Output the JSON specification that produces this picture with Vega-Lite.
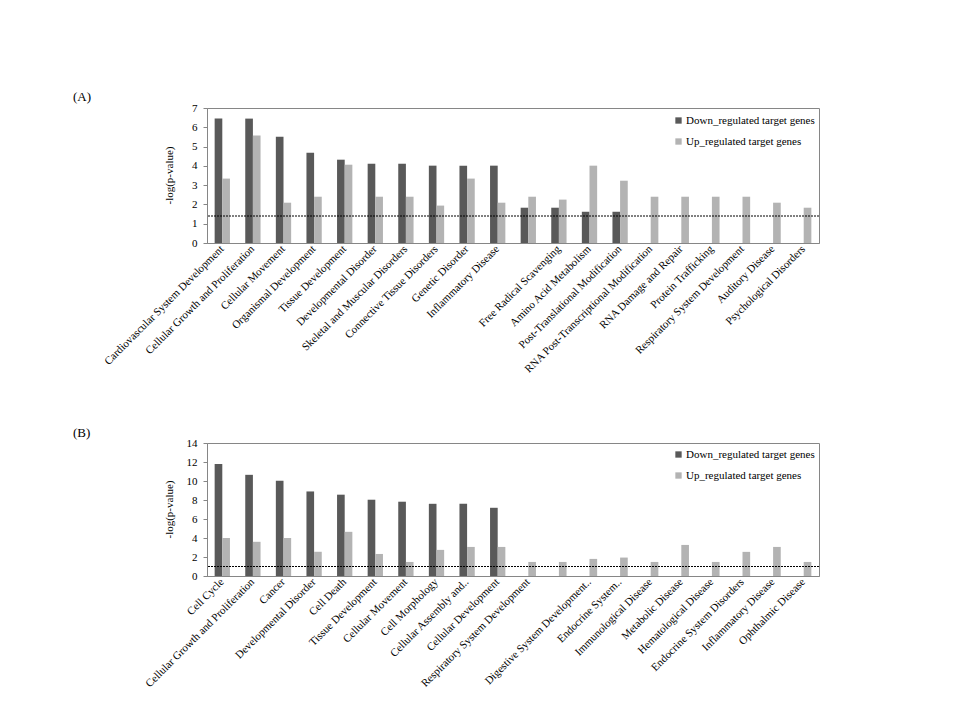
{
  "$schema": "https://vega.github.io/schema/vega-lite/v6.json",
  "padding": {"left": 72, "top": 90, "right": 5, "bottom": 5},
  "background": "white",
  "datasets": {
    "a": [
      {"category": "Cardiovascular System Development", "series": "Down_regulated target genes", "value": 6.45},
      {"category": "Cardiovascular System Development", "series": "Up_regulated target genes", "value": 3.34},
      {"category": "Cellular Growth and Proliferation", "series": "Down_regulated target genes", "value": 6.45},
      {"category": "Cellular Growth and Proliferation", "series": "Up_regulated target genes", "value": 5.57},
      {"category": "Cellular Movement", "series": "Down_regulated target genes", "value": 5.51},
      {"category": "Cellular Movement", "series": "Up_regulated target genes", "value": 2.09},
      {"category": "Organismal Development", "series": "Down_regulated target genes", "value": 4.68},
      {"category": "Organismal Development", "series": "Up_regulated target genes", "value": 2.4},
      {"category": "Tissue Development", "series": "Down_regulated target genes", "value": 4.32},
      {"category": "Tissue Development", "series": "Up_regulated target genes", "value": 4.06},
      {"category": "Developmental Disorder", "series": "Down_regulated target genes", "value": 4.11},
      {"category": "Developmental Disorder", "series": "Up_regulated target genes", "value": 2.4},
      {"category": "Skeletal and Muscular Disorders", "series": "Down_regulated target genes", "value": 4.11},
      {"category": "Skeletal and Muscular Disorders", "series": "Up_regulated target genes", "value": 2.4},
      {"category": "Connective Tissue Disorders", "series": "Down_regulated target genes", "value": 4.01},
      {"category": "Connective Tissue Disorders", "series": "Up_regulated target genes", "value": 1.94},
      {"category": "Genetic Disorder", "series": "Down_regulated target genes", "value": 4.01},
      {"category": "Genetic Disorder", "series": "Up_regulated target genes", "value": 3.34},
      {"category": "Inflammatory Disease", "series": "Down_regulated target genes", "value": 4.01},
      {"category": "Inflammatory Disease", "series": "Up_regulated target genes", "value": 2.09},
      {"category": " ", "series": "Down_regulated target genes", "value": 1.83},
      {"category": " ", "series": "Up_regulated target genes", "value": 2.4},
      {"category": "Free Radical Scavenging", "series": "Down_regulated target genes", "value": 1.83},
      {"category": "Free Radical Scavenging", "series": "Up_regulated target genes", "value": 2.25},
      {"category": "Amino Acid Metabolism", "series": "Down_regulated target genes", "value": 1.62},
      {"category": "Amino Acid Metabolism", "series": "Up_regulated target genes", "value": 4.01},
      {"category": "Post-Translational Modification", "series": "Down_regulated target genes", "value": 1.62},
      {"category": "Post-Translational Modification", "series": "Up_regulated target genes", "value": 3.23},
      {"category": "RNA Post-Transcriptional Modification", "series": "Up_regulated target genes", "value": 2.4},
      {"category": "RNA Damage and Repair", "series": "Up_regulated target genes", "value": 2.4},
      {"category": "Protein Trafficking", "series": "Up_regulated target genes", "value": 2.4},
      {"category": "Respiratory System Development", "series": "Up_regulated target genes", "value": 2.4},
      {"category": "Auditory Disease", "series": "Up_regulated target genes", "value": 2.09},
      {"category": "Psychological Disorders", "series": "Up_regulated target genes", "value": 1.83}
    ],
    "b": [
      {"category": "Cell Cycle", "series": "Down_regulated target genes", "value": 11.8},
      {"category": "Cell Cycle", "series": "Up_regulated target genes", "value": 4.0},
      {"category": "Cellular Growth and Proliferation", "series": "Down_regulated target genes", "value": 10.65},
      {"category": "Cellular Growth and Proliferation", "series": "Up_regulated target genes", "value": 3.6},
      {"category": "Cancer", "series": "Down_regulated target genes", "value": 10.03},
      {"category": "Cancer", "series": "Up_regulated target genes", "value": 4.0},
      {"category": "Developmental Disorder", "series": "Down_regulated target genes", "value": 8.9},
      {"category": "Developmental Disorder", "series": "Up_regulated target genes", "value": 2.55},
      {"category": "Cell Death", "series": "Down_regulated target genes", "value": 8.56},
      {"category": "Cell Death", "series": "Up_regulated target genes", "value": 4.65},
      {"category": "Tissue Development", "series": "Down_regulated target genes", "value": 8.03},
      {"category": "Tissue Development", "series": "Up_regulated target genes", "value": 2.32},
      {"category": "Cellular Movement", "series": "Down_regulated target genes", "value": 7.82},
      {"category": "Cellular Movement", "series": "Up_regulated target genes", "value": 1.48},
      {"category": "Cell Morphology", "series": "Down_regulated target genes", "value": 7.6},
      {"category": "Cell Morphology", "series": "Up_regulated target genes", "value": 2.75},
      {"category": "Cellular Assembly and..", "series": "Down_regulated target genes", "value": 7.6},
      {"category": "Cellular Assembly and..", "series": "Up_regulated target genes", "value": 3.06},
      {"category": "Cellular Development", "series": "Down_regulated target genes", "value": 7.18},
      {"category": "Cellular Development", "series": "Up_regulated target genes", "value": 3.06},
      {"category": "Respiratory System Development", "series": "Up_regulated target genes", "value": 1.48},
      {"category": " ", "series": "Up_regulated target genes", "value": 1.48},
      {"category": "Digestive System Development..", "series": "Up_regulated target genes", "value": 1.8},
      {"category": "Endocrine System..", "series": "Up_regulated target genes", "value": 1.94},
      {"category": "Immunological Disease", "series": "Up_regulated target genes", "value": 1.48},
      {"category": "Metabolic Disease", "series": "Up_regulated target genes", "value": 3.27},
      {"category": "Hematological Disease", "series": "Up_regulated target genes", "value": 1.48},
      {"category": "Endocrine System Disorders", "series": "Up_regulated target genes", "value": 2.54},
      {"category": "Inflammatory Disease", "series": "Up_regulated target genes", "value": 3.06},
      {"category": "Ophthalmic Disease", "series": "Up_regulated target genes", "value": 1.48}
    ]
  },
  "vconcat": [
    {
      "title": {"text": "(A)", "anchor": "start", "frame": "group", "dx": -134, "offset": -2, "font": "Liberation Serif", "fontSize": 13, "fontWeight": "normal", "color": "#000"},
      "width": 612,
      "height": 135,
      "layer": [
        {
          "data": {"name": "a"},
          "mark": {"type": "bar"},
          "encoding": {
            "x": {"field": "category", "type": "nominal", "sort": null, "title": null,
                  "scale": {"paddingInner": 0.5, "paddingOuter": 0.25},
                  "axis": {"labelAngle": -45, "labelAlign": "right", "labelBaseline": "middle", "labelLimit": 0, "ticks": false, "labelPadding": 4, "labelFontSize": 11}},
            "xOffset": {"field": "series", "type": "nominal", "scale": {"domain": ["Down_regulated target genes", "Up_regulated target genes"]}},
            "y": {"field": "value", "type": "quantitative", "scale": {"domain": [0, 7], "nice": false},
                  "axis": {"values": [0, 1, 2, 3, 4, 5, 6, 7], "title": "-log(p-value)", "titleX": -33, "titleY": 67, "labelOverlap": false}},
            "color": {"field": "series", "type": "nominal",
                      "scale": {"domain": ["Down_regulated target genes", "Up_regulated target genes"], "range": ["#595959", "#b3b3b3"]},
                      "legend": {"orient": "none", "legendX": 466, "legendY": 7, "title": null, "labelFont": "Liberation Serif"}}
          }
        },
        {
          "data": {"values": [{"threshold": 1.4}]},
          "mark": {"type": "rule", "color": "#000", "strokeDash": [2, 1], "strokeWidth": 1},
          "encoding": {"y": {"field": "threshold", "type": "quantitative",
                  "axis": {"values": [0, 1, 2, 3, 4, 5, 6, 7], "title": "-log(p-value)", "titleX": -33, "titleY": 67, "labelOverlap": false}}}
        }
      ]
    },
    {
      "title": {"text": "(B)", "anchor": "start", "frame": "group", "dx": -134, "offset": -3, "font": "Liberation Serif", "fontSize": 13, "fontWeight": "normal", "color": "#000"},
      "width": 612,
      "height": 133,
      "layer": [
        {
          "data": {"name": "b"},
          "mark": {"type": "bar"},
          "encoding": {
            "x": {"field": "category", "type": "nominal", "sort": null, "title": null,
                  "scale": {"paddingInner": 0.5, "paddingOuter": 0.25},
                  "axis": {"labelAngle": -45, "labelAlign": "right", "labelBaseline": "middle", "labelLimit": 0, "ticks": false, "labelPadding": 4, "labelFontSize": 11}},
            "xOffset": {"field": "series", "type": "nominal", "scale": {"domain": ["Down_regulated target genes", "Up_regulated target genes"]}},
            "y": {"field": "value", "type": "quantitative", "scale": {"domain": [0, 14], "nice": false},
                  "axis": {"values": [0, 2, 4, 6, 8, 10, 12, 14], "title": "-log(p-value)", "titleX": -33, "titleY": 66, "labelOverlap": false}},
            "color": {"field": "series", "type": "nominal",
                      "scale": {"domain": ["Down_regulated target genes", "Up_regulated target genes"], "range": ["#595959", "#b3b3b3"]},
                      "legend": {"orient": "none", "legendX": 466, "legendY": 6, "title": null, "labelFont": "Liberation Serif"}}
          }
        },
        {
          "data": {"values": [{"threshold": 1.0}]},
          "mark": {"type": "rule", "color": "#000", "strokeDash": [2, 1], "strokeWidth": 1},
          "encoding": {"y": {"field": "threshold", "type": "quantitative",
                  "axis": {"values": [0, 2, 4, 6, 8, 10, 12, 14], "title": "-log(p-value)", "titleX": -33, "titleY": 66, "labelOverlap": false}}}
        }
      ]
    }
  ],
  "spacing": 200,
  "bounds": "flush",
  "resolve": {
    "scale": {"color": "independent", "x": "independent", "y": "independent", "xOffset": "independent"},
    "legend": {"color": "independent"},
    "axis": {"x": "independent", "y": "independent"}
  },
  "config": {
    "font": "Liberation Serif",
    "view": {"stroke": "#868686", "strokeWidth": 1},
    "axis": {
      "grid": false,
      "domainColor": "#868686",
      "tickColor": "#868686",
      "tickSize": 4,
      "labelFont": "Liberation Serif",
      "labelFontSize": 11,
      "labelColor": "#000",
      "labelPadding": 6,
      "titleFont": "Liberation Serif",
      "titleFontSize": 11,
      "titleFontWeight": "normal",
      "titleColor": "#000"
    },
    "legend": {
      "symbolType": "square",
      "symbolSize": 40,
      "symbolStrokeWidth": 0,
      "labelFont": "Liberation Serif",
      "labelFontSize": 11,
      "labelColor": "#000",
      "rowPadding": 9,
      "symbolOffset": 0,
      "labelOffset": 2
    }
  }
}
